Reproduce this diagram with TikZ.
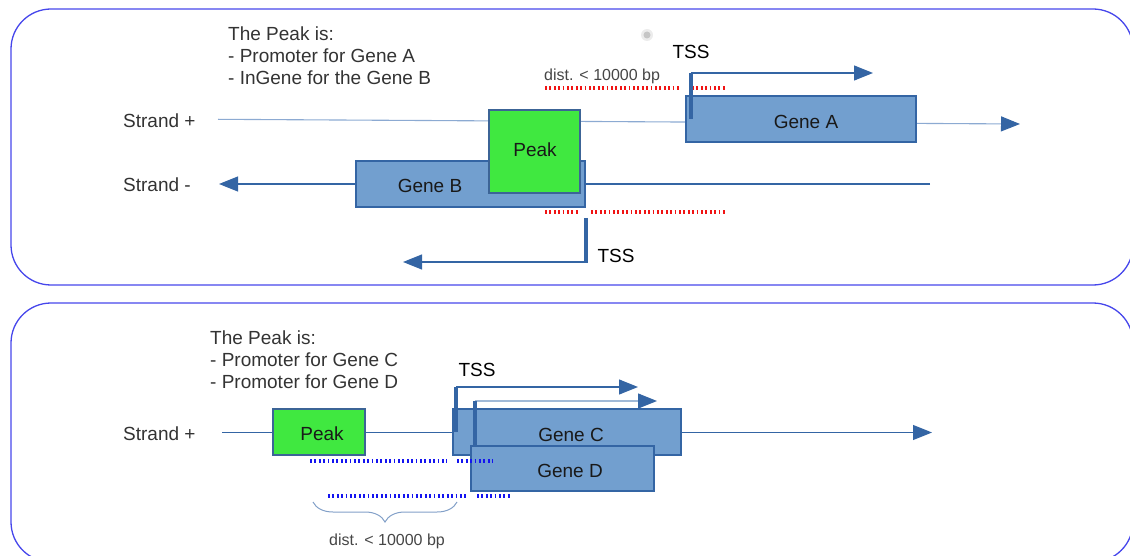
\documentclass[tikz,border=0pt]{standalone}
\usepackage{fontspec}
\setmainfont{Liberation Sans}
\usetikzlibrary{arrows.meta,decorations.pathreplacing}
\definecolor{panel}{RGB}{70,70,235}
\definecolor{genefill}{RGB}{114,159,207}
\definecolor{geneedge}{RGB}{52,101,164}
\definecolor{peakfill}{RGB}{64,232,64}
\definecolor{peakedge}{RGB}{60,100,150}
\definecolor{lightstrand}{RGB}{140,170,210}
\definecolor{lighttss}{RGB}{160,185,215}
\definecolor{txtgray}{RGB}{51,51,51}
\definecolor{distgray}{RGB}{70,70,70}
\definecolor{bracecol}{RGB}{130,160,200}
\definecolor{dotred}{RGB}{240,20,20}
\definecolor{dotblue}{RGB}{20,20,240}
\begin{document}
\begin{tikzpicture}[x=1pt,y=-1pt,
  panelbox/.style={draw=panel, line width=1.3pt, rounded corners=40pt},
  genebox/.style={draw=geneedge, fill=genefill, line width=1.2pt, inner sep=0pt},
  peakbox/.style={draw=peakedge, fill=peakfill, line width=1.2pt, inner sep=0pt},
  lbl/.style={inner sep=0pt, text height=13.6pt, text depth=0pt, font=\fontsize{19}{22}\selectfont},
  graylbl/.style={lbl, text=txtgray},
  genelbl/.style={lbl, text=black!90},
  distlbl/.style={inner sep=0pt, text height=11.5pt, text depth=0pt, font=\fontsize{16}{19}\selectfont, text=distgray},
  strandline/.style={draw=geneedge, line width=1.1pt},
  arrowend/.style={-{Triangle[length=19pt,width=15pt,color=geneedge]}},
  tssbar/.style={draw=geneedge, line width=3.5pt},
  tssarrow/.style={draw=geneedge, line width=1.2pt, -{Triangle[length=19pt,width=15pt,color=geneedge]}},
  reddots/.style={draw=dotred, line width=3.8pt, dash pattern=on 1.8pt off 2.6pt},
  bluedots/.style={draw=dotblue, line width=3.8pt, dash pattern=on 1.8pt off 2.6pt},
]
\useasboundingbox (0,0) rectangle (1130,556);
\clip (0,0) rectangle (1130,556);

% ---------- top panel ----------
\draw[panelbox] (11,9) rectangle (1133,285);
\fill[gray!15] (647,35) circle (6pt);
\fill[gray!45] (647,35) circle (3.5pt);

\node[graylbl, anchor=west] (pa1) at (228,34) {The Peak is:};
\node[graylbl, anchor=west] (pa2) at (228,56) {- Promoter for Gene A};
\node[graylbl, anchor=west] (pa3) at (228,78) {- InGene for the Gene B};

\node[graylbl, anchor=west] (splusA) at (123,121) {Strand +};
\node[graylbl, anchor=west] (sminusA) at (123,185) {Strand -};

\coordinate (spA0) at (218,119.3);
\coordinate (spA1) at (1020,124);
\draw[strandline, draw=lightstrand, arrowend] (spA0) -- (spA1);
\coordinate (smA0) at (930,184);
\coordinate (smA1) at (219,184);
\draw[strandline, arrowend] (smA0) -- (smA1);

\node[genebox, minimum width=229pt, minimum height=46pt] (geneB) at (470.5,184) {};
\node[genelbl] (geneBl) at (430,186) {Gene B};
\node[peakbox, minimum width=91pt, minimum height=83pt] (peakA) at (534.5,151.5) {};
\node[genelbl] (peakAl) at (535,150) {Peak};
\node[genebox, minimum width=230pt, minimum height=46pt] (geneA) at (801,119) {};
\node[genelbl] (geneAl) at (806,122) {Gene A};

\draw[reddots] (545,88) -- (681,88);
\draw[reddots] (692,88) -- (727,88);
\draw[reddots] (545,212) -- (578,212);
\draw[reddots] (591,212) -- (727,212);

\coordinate (tA0) at (691,73);
\coordinate (tA1) at (691,119);
\coordinate (tA2) at (873,73);
\draw[tssbar] (tA0) -- (tA1);
\draw[tssarrow] (tA0) -- (tA2);
\node[lbl] (tssA) at (691,52) {TSS};
\node[distlbl, anchor=west] (distA) at (544,75) {dist. < 10000 bp};

\coordinate (tB0) at (586,218);
\coordinate (tB1) at (586,262);
\coordinate (tB2) at (403,262);
\draw[tssbar] (tB0) -- (tB1);
\draw[tssarrow] (587.5,262) -- (tB2);
\node[lbl] (tssB) at (616,256) {TSS};

% ---------- bottom panel ----------
\draw[panelbox] (11,303) rectangle (1133,562);

\node[graylbl, anchor=west] (pb1) at (210,338) {The Peak is:};
\node[graylbl, anchor=west] (pb2) at (210,360) {- Promoter for Gene C};
\node[graylbl, anchor=west] (pb3) at (210,382) {- Promoter for Gene D};

\node[graylbl, anchor=west] (splusB) at (123,434) {Strand +};
\coordinate (spB0) at (222,432.5);
\coordinate (spB1) at (932,432.5);
\draw[strandline, arrowend] (spB0) -- (spB1);

\node[peakbox, minimum width=92pt, minimum height=46pt] (peakB) at (319,432) {};
\node[genelbl] (peakBl) at (322,434) {Peak};
\node[genebox, minimum width=228pt, minimum height=46pt] (geneC) at (567,432) {};
\node[genelbl] (geneCl) at (571,435) {Gene C};

\coordinate (tC0) at (456,387);
\coordinate (tC1) at (456,432);
\coordinate (tC2) at (638,387);
\draw[tssbar] (tC0) -- (tC1);
\draw[tssarrow] (tC0) -- (tC2);

\coordinate (tD0) at (475,401);
\coordinate (tD1) at (475,447);
\coordinate (tD2) at (657,401);
\draw[tssarrow, draw=lighttss] (tD0) -- (tD2);

\node[genebox, minimum width=183pt, minimum height=45pt] (geneD) at (562.5,468.5) {};
\node[genelbl] (geneDl) at (570,471) {Gene D};
\draw[tssbar] (tD0) -- (tD1);

\node[lbl] (tssC) at (477,370) {TSS};

\draw[bluedots] (310,461) -- (447,461);
\draw[bluedots] (457,461) -- (493,461);
\draw[bluedots] (328,496) -- (467,496);
\draw[bluedots] (477,496) -- (511,496);

\coordinate (brL) at (313,502);
\coordinate (brR) at (457,502);
\draw[draw=bracecol, line width=1pt, decorate, decoration={brace, mirror, amplitude=20pt}] (brL) -- (brR);
\node[distlbl] (distB) at (387,540) {dist. < 10000 bp};
\end{tikzpicture}
\end{document}
